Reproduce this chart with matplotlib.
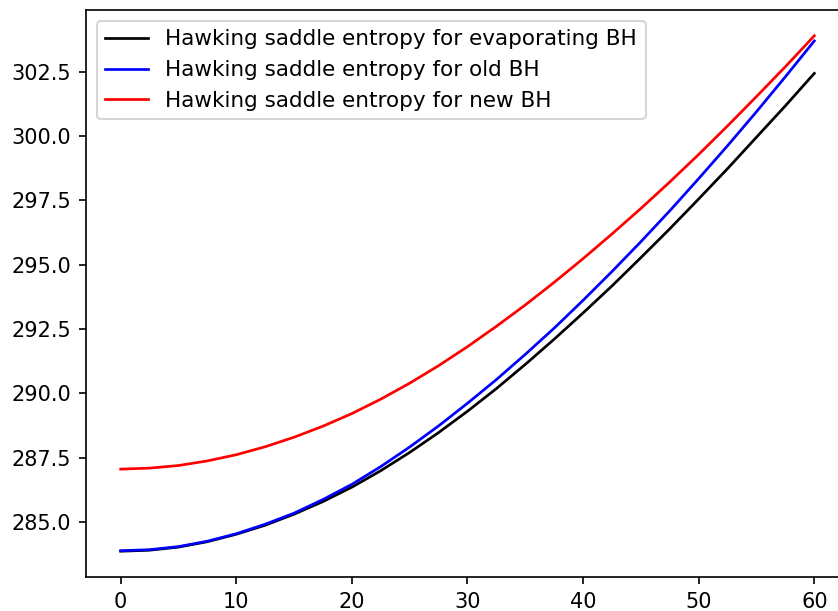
import matplotlib
matplotlib.use('Agg')
import matplotlib.pyplot as plt
import numpy as np

# values, every 2.5 units
x = [0, 2.5, 5, 7.5, 10, 12.5, 15, 17.5, 20, 22.5, 25, 27.5, 30,
     32.5, 35, 37.5, 40, 42.5, 45, 47.5, 50, 52.5, 55, 57.5, 60]
s_evap = [283.87, 283.91, 284.03, 284.24, 284.53, 284.88, 285.31, 285.80,
          286.36, 287.00, 287.71, 288.48, 289.31, 290.19, 291.13, 292.11,
          293.13, 294.18, 295.28, 296.40, 297.56, 298.74, 299.96, 301.18,
          302.44]
s_old = [283.89, 283.93, 284.05, 284.26, 284.55, 284.92, 285.35, 285.88,
         286.47, 287.16, 287.92, 288.74, 289.62, 290.54, 291.52, 292.54,
         293.62, 294.74, 295.90, 297.10, 298.35, 299.63, 300.95, 302.31,
         303.70]
s_new = [287.06, 287.10, 287.20, 287.38, 287.62, 287.93, 288.30, 288.73,
         289.22, 289.78, 290.40, 291.08, 291.82, 292.61, 293.44, 294.32,
         295.24, 296.20, 297.19, 298.22, 299.29, 300.40, 301.54, 302.70,
         303.90]

fig = plt.figure(figsize=(838 / 150, 611 / 150), dpi=150)
ax = fig.add_axes([86 / 838, 34 / 611, 763 / 838, 567 / 611])

ax.plot(x, s_evap, color='black', lw=1.3, label='Hawking saddle entropy for evaporating BH')
ax.plot(x, s_old, color='blue', lw=1.3, label='Hawking saddle entropy for old BH')
ax.plot(x, s_new, color='red', lw=1.3, label='Hawking saddle entropy for new BH')
ax.legend(loc='upper left', fontsize=10.3)

fig.savefig('out.png', dpi=150)
